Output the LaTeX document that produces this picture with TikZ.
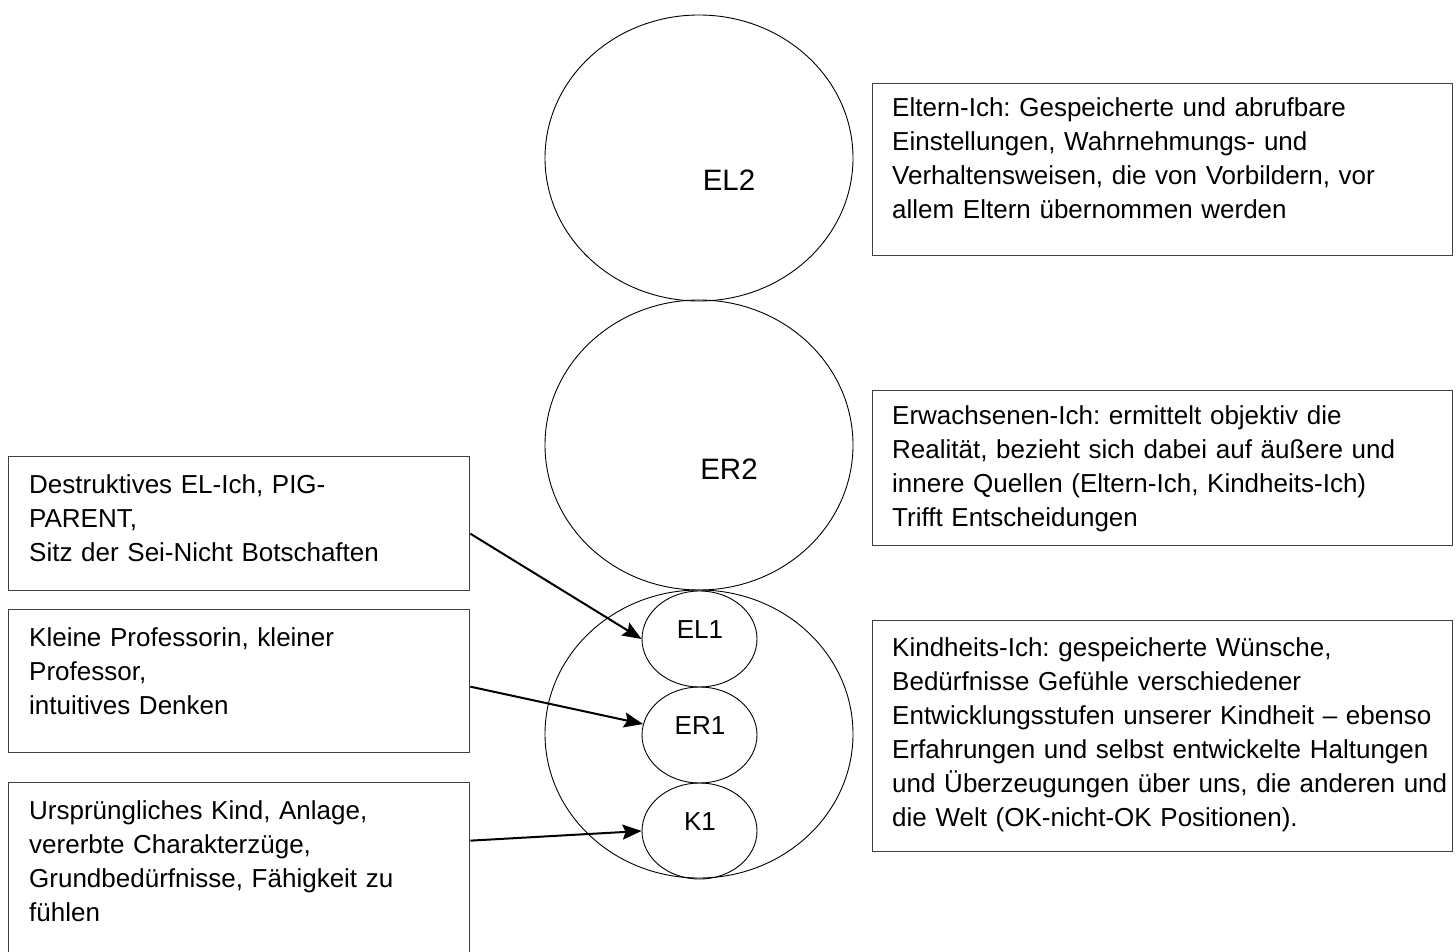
\documentclass[tikz,border=0pt]{standalone}
\usepackage{fontspec}
\setmainfont{Liberation Sans}
\frenchspacing
\usetikzlibrary{shapes.geometric,arrows.meta}
\tikzset{
  bubble/.style={draw=black, line width=0.9pt, ellipse, inner sep=0pt},
  boxframe/.style={draw=black!75, line width=1.3pt, rectangle, inner sep=0pt, anchor=north west},
  boxtext/.style={inner sep=0pt, anchor=base west, align=left, font=\fontsize{26}{34}\selectfont},
  biglabel/.style={inner sep=0pt, font=\fontsize{29.5}{34}\selectfont},
  smalllabel/.style={inner sep=0pt, font=\fontsize{26}{34}\selectfont},
  arr/.style={draw=black, line width=2pt, -{Stealth[length=19pt,width=15pt,inset=3pt]}}
}
\begin{document}
\begin{tikzpicture}[x=1pt,y=-1pt]
\useasboundingbox (0,0) rectangle (1456,952);
\clip (0,0) rectangle (1456,952);
% ellipses
\node[bubble, minimum width=308pt, minimum height=286pt] (el2) at (699,158) {};
\node[bubble, minimum width=308pt, minimum height=290pt] (er2) at (699,445) {};
\node[bubble, minimum width=308pt, minimum height=288pt] (kk) at (699,734) {};
\node[bubble, minimum width=115pt, minimum height=96pt] (el1) at (699.5,639) {};
\node[bubble, minimum width=115pt, minimum height=96pt] (er1) at (699.5,735) {};
\node[bubble, minimum width=115pt, minimum height=96pt] (k1) at (699.5,831) {};
\node[biglabel] (el2t) at (729,180) {EL2};
\node[biglabel] (er2t) at (729,469) {ER2};
\node[smalllabel] (el1t) at (700,630) {EL1};
\node[smalllabel] (er1t) at (700,725.5) {ER1};
\node[smalllabel] (k1t) at (700,821.5) {K1};
% right boxes
\node[boxframe, minimum width=580pt, minimum height=172pt] (r1) at (872,83) {};
\node[boxframe, minimum width=580pt, minimum height=155pt] (r2) at (872,390) {};
\node[boxframe, minimum width=580pt, minimum height=231pt] (r3) at (872,620) {};
\node[boxtext, text width=570pt] (r1t) at (892,117) {Eltern-Ich: Gespeicherte und abrufbare\\Einstellungen, Wahrnehmungs- und\\Verhaltensweisen, die von Vorbildern, vor\\allem Eltern übernommen werden};
\node[boxtext, text width=570pt] (r2t) at (892,424) {Erwachsenen-Ich: ermittelt objektiv die\\Realität, bezieht sich dabei auf äußere und\\innere Quellen (Eltern-Ich, Kindheits-Ich)\\Trifft Entscheidungen};
\node[boxtext, text width=570pt] (r3t) at (892,656) {Kindheits-Ich: gespeicherte Wünsche,\\Bedürfnisse Gefühle verschiedener\\Entwicklungsstufen unserer Kindheit – ebenso\\Erfahrungen und selbst entwickelte Haltungen\\und Überzeugungen über uns, die anderen und\\die Welt (OK-nicht-OK Positionen).};
% left boxes
\node[boxframe, minimum width=461pt, minimum height=134pt] (l1) at (8,456) {};
\node[boxframe, minimum width=461pt, minimum height=143pt] (l2) at (8,609) {};
\node[boxframe, minimum width=461pt, minimum height=178pt] (l3) at (8,782) {};
\node[boxtext, text width=440pt] (l1t) at (29,493) {Destruktives EL-Ich, PIG-\\PARENT,\\Sitz der Sei-Nicht Botschaften};
\node[boxtext, text width=440pt] (l2t) at (29,646) {Kleine Professorin, kleiner\\Professor,\\intuitives Denken};
\node[boxtext, text width=440pt] (l3t) at (29,819) {Ursprüngliches Kind, Anlage,\\vererbte Charakterzüge,\\Grundbedürfnisse, Fähigkeit zu\\fühlen};
% arrows
\draw[arr] ([yshift=-10pt]l1.east) -- (el1.west);
\draw[arr] ([yshift=-5.5pt]l2.east) -- (er1.169);
\draw[arr] ([yshift=31pt]l3.east) -- (k1.west);
\end{tikzpicture}
\end{document}
